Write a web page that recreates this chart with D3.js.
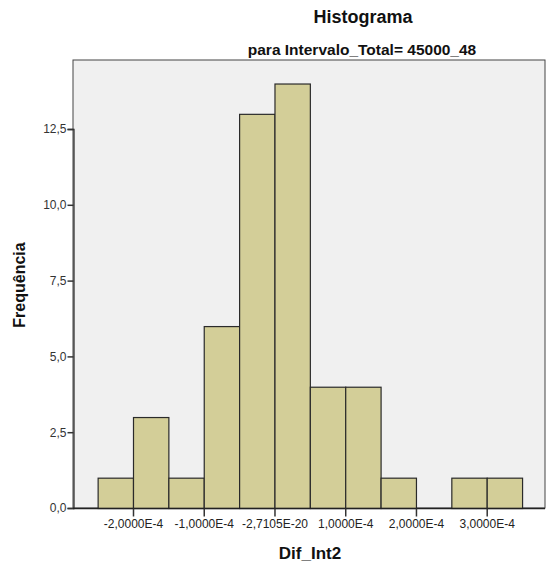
<!DOCTYPE html>
<html>
<head>
<meta charset="utf-8">
<script src="https://cdn.jsdelivr.net/npm/d3@7"></script>
<style>
  body { margin: 0; background: #fff; }
  svg { display: block; }
</style>
</head>
<body>
<svg id="chart" width="546" height="567"></svg>
<script>
// Histogram bins of Dif_Int2 (bin edges) and their frequencies
const binStarts = [-2.5e-4, -2.0e-4, -1.5e-4, -1.0e-4, -0.5e-4, 0, 0.5e-4, 1.0e-4, 1.5e-4, 2.0e-4, 2.5e-4, 3.0e-4];
const binWidth = 0.5e-4;
const frequencies = [1, 3, 1, 6, 13, 14, 4, 4, 1, 0, 1, 1];

// Axis ticks
const xTickValues = [-2e-4, -1e-4, -2.7105e-20, 1e-4, 2e-4, 3e-4];
const xTickLabels = ["-2,0000E-4", "-1,0000E-4", "-2,7105E-20", "1,0000E-4", "2,0000E-4", "3,0000E-4"];
const yTickValues = [0, 2.5, 5, 7.5, 10, 12.5];
const yTickLabels = ["0,0", "2,5", "5,0", "7,5", "10,0", "12,5"];

const svg = d3.select("#chart");
const frame = { left: 73, right: 545, top: 60, bottom: 508 };

const x = d3.scaleLinear().domain([-2e-4, 3e-4]).range([133, 486.7]);
const y = d3.scaleLinear().domain([0, 12.5]).range([frame.bottom, 129]);

// plot background
svg.append("rect")
  .attr("x", frame.left).attr("y", frame.top)
  .attr("width", frame.right - frame.left).attr("height", frame.bottom - frame.top)
  .attr("fill", "#f0f0f0").attr("stroke", "#444").attr("stroke-width", 1);

// bars
svg.append("g").selectAll("rect")
  .data(binStarts.map((s, i) => ({ x0: s, x1: s + binWidth, n: frequencies[i] })).filter(d => d.n > 0))
  .join("rect")
  .attr("x", d => x(d.x0) + 0.5)
  .attr("y", d => y(d.n) + 0.5)
  .attr("width", d => x(d.x1) - x(d.x0))
  .attr("height", d => y(0) - y(d.n))
  .attr("fill", "#d3ce98")
  .attr("stroke", "#2a2a2a")
  .attr("stroke-width", 1.2);

// y axis
const yAxis = d3.axisLeft(y)
  .tickValues(yTickValues)
  .tickFormat((d, i) => yTickLabels[i])
  .tickSize(6).tickPadding(1);
const gy = svg.append("g").attr("transform", `translate(${frame.left + 0.5},0)`).call(yAxis);
gy.select(".domain").attr("stroke", "#333").attr("stroke-width", 1.3);
gy.selectAll(".tick line").attr("stroke", "#333").attr("stroke-width", 1.5);
gy.selectAll(".tick text")
  .attr("font-family", "Liberation Sans, Arial, sans-serif")
  .attr("font-size", 12).attr("fill", "#333");

// x axis
const xAxis = d3.axisBottom(x)
  .tickValues(xTickValues)
  .tickFormat((d, i) => xTickLabels[i])
  .tickSize(8).tickPadding(3).tickSizeOuter(0);
const gx = svg.append("g").attr("transform", `translate(0,${frame.bottom + 0.5})`).call(xAxis);
gx.select(".domain").attr("d", `M${frame.left},0H${frame.right}`).attr("stroke", "#222").attr("stroke-width", 1.3);
gx.selectAll(".tick line").attr("stroke", "#333").attr("stroke-width", 1.5);
gx.selectAll(".tick text")
  .attr("font-family", "Liberation Sans, Arial, sans-serif")
  .attr("font-size", 12).attr("fill", "#222");

// titles
svg.append("text")
  .attr("x", 363).attr("y", 23).attr("text-anchor", "middle")
  .attr("font-family", "Liberation Sans, Arial, sans-serif")
  .attr("font-size", 18).attr("font-weight", "bold").attr("fill", "#111")
  .text("Histograma");
svg.append("text")
  .attr("x", 362).attr("y", 55).attr("text-anchor", "middle")
  .attr("font-family", "Liberation Sans Narrow, Arial Narrow, sans-serif")
  .attr("font-size", 15.5).attr("font-weight", "bold").attr("fill", "#111")
  .text("para Intervalo_Total= 45000_48");

// axis titles
svg.append("text")
  .attr("x", 310).attr("y", 559).attr("text-anchor", "middle")
  .attr("font-family", "Liberation Sans, Arial, sans-serif")
  .attr("font-size", 17).attr("font-weight", "bold").attr("fill", "#111")
  .text("Dif_Int2");
svg.append("text")
  .attr("transform", "translate(25,285) rotate(-90)")
  .attr("text-anchor", "middle")
  .attr("font-family", "Liberation Sans, Arial, sans-serif")
  .attr("font-size", 16).attr("font-weight", "bold").attr("fill", "#111")
  .text("Frequência");
</script>
</body>
</html>
